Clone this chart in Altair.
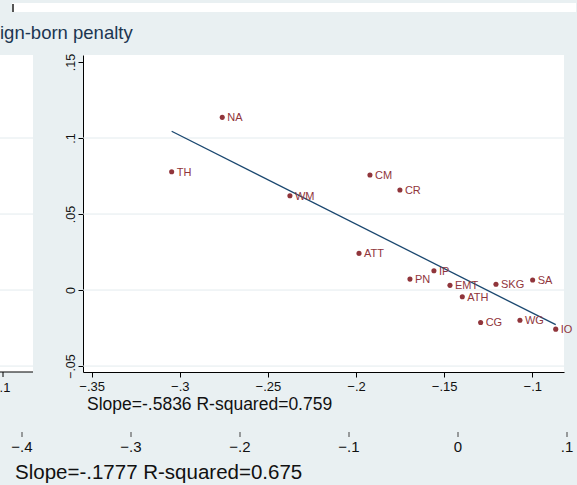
import altair as alt
import pandas as pd

# ---- data ----
labels = ["NA", "TH", "WM", "CM", "CR", "ATT", "IP", "PN", "EMT", "SKG", "SA", "ATH", "CG", "WG", "IO"]
x_vals = [-0.2759, -0.3046, -0.2375, -0.1921, -0.1751, -0.1983, -0.1558, -0.1694, -0.1467,
          -0.1206, -0.0998, -0.1397, -0.1293, -0.1070, -0.0867]
y_vals = [0.1136, 0.0778, 0.0620, 0.0757, 0.0658, 0.0241, 0.0127, 0.0072, 0.0031,
          0.0038, 0.0066, -0.0044, -0.0213, -0.0199, -0.0257]
x_ticks = [-0.35, -0.3, -0.25, -0.2, -0.15, -0.1]
y_ticks = [-0.05, 0, 0.05, 0.1, 0.15]
y_grid = [-0.05, 0, 0.05, 0.1]
bottom_ticks = [-0.4, -0.3, -0.2, -0.1, 0, 0.1]
title_text = "ign-born penalty"
slope_text_main = "Slope=-.5836 R-squared=0.759"
slope_text_bottom = "Slope=-.1777 R-squared=0.675"
left_panel_tick = ".1"

df = pd.DataFrame({"x": x_vals, "y": y_vals, "label": labels})
grid_df = pd.DataFrame({"y": y_grid})
bt_df = pd.DataFrame({"v": bottom_ticks})
one = pd.DataFrame({"a": [0]})

FONT = "Liberation Sans"
BG = "#e9f0f2"
GRID = "#e3ebee"
MAROON = "#90353b"
NAVY = "#1a476f"
W, H = 481, 317

fmt = "replace(format(datum.value, '.2~f'), '0.', '.')"

xscale = alt.Scale(domain=[-0.3549, -0.0820], nice=False, zero=False)
yscale = alt.Scale(domain=[-0.0539, 0.1546], nice=False, zero=False)

xax = alt.Axis(values=x_ticks, labelExpr=fmt, title=None, grid=False, tickSize=5,
               tickColor="black", domainColor="black", labelColor="#111",
               labelFontSize=13, labelPadding=3, labelFont=FONT)
yax = alt.Axis(values=y_ticks, labelExpr=fmt, title=None, grid=False, tickSize=5,
               tickColor="black", domainColor="black", labelColor="#111",
               labelFontSize=12.5, labelAngle=270, labelAlign="center",
               labelBaseline="bottom", labelPadding=1, labelFont=FONT)

X = alt.X("x:Q", scale=xscale, axis=xax)
Y = alt.Y("y:Q", scale=yscale, axis=yax)

# grid lines in right panel and left panel
grid_right = alt.Chart(grid_df).mark_rule(color=GRID, strokeWidth=1).encode(
    y=Y, x=alt.value(0), x2=alt.value(W))
left_rect = alt.Chart(one).mark_rect(color="white").encode(
    x=alt.value(-83), x2=alt.value(-50), y=alt.value(0), y2=alt.value(H))
grid_left = alt.Chart(grid_df).mark_rule(color=GRID, strokeWidth=1).encode(
    y=Y, x=alt.value(-83), x2=alt.value(-50))
left_axis = alt.Chart(one).mark_rule(color="black", strokeWidth=1).encode(
    x=alt.value(-83), x2=alt.value(-50), y=alt.value(H), y2=alt.value(H))
left_tick = alt.Chart(one).mark_rule(color="black", strokeWidth=1).encode(
    x=alt.value(-80), y=alt.value(H), y2=alt.value(H + 5))
left_label = alt.Chart(one).mark_text(text=left_panel_tick, font=FONT, fontSize=13,
                                      color="#111", align="center", baseline="middle").encode(
    x=alt.value(-78), y=alt.value(333))

top_strip = alt.Chart(one).mark_rect(color="white").encode(
    x=alt.value(-71), x2=alt.value(493), y=alt.value(-52), y2=alt.value(-43))
top_tick = alt.Chart(one).mark_rule(color="#555", strokeWidth=2).encode(
    x=alt.value(-70), y=alt.value(-51), y2=alt.value(-43))
title = alt.Chart(one).mark_text(text=title_text, font=FONT, fontSize=18.5, color="#1c3651",
                                 align="left", baseline="alphabetic").encode(
    x=alt.value(-83), y=alt.value(-16))

base = alt.Chart(df)
line = base.transform_regression("x", "y").mark_line(color=NAVY, strokeWidth=1.3).encode(
    x=X, y=Y)
points = base.mark_circle(color=MAROON, size=26, opacity=1).encode(x=X, y=Y)
texts = base.mark_text(color=MAROON, font=FONT, fontSize=11, align="left",
                       baseline="middle", dx=5, dy=1).encode(x=X, y=Y, text="label:N")

slope_main = alt.Chart(one).mark_text(text=slope_text_main, font=FONT, fontSize=17.5,
                                      color="#111", align="left", baseline="alphabetic").encode(
    x=alt.value(4), y=alt.value(355))
slope_bottom = alt.Chart(one).mark_text(text=slope_text_bottom, font=FONT, fontSize=20.5,
                                        color="#111", align="left", baseline="alphabetic").encode(
    x=alt.value(-68), y=alt.value(424))

main = alt.layer(left_rect, grid_left, left_axis, left_tick, left_label, top_strip, top_tick,
                 title, grid_right, line, points, texts, slope_main, slope_bottom)

bscale = alt.Scale(domain=[-0.4, 0.1], range=[-61, 484], nice=False, zero=False)
b_ticks = alt.Chart(bt_df).mark_rule(color="#444", strokeWidth=1).encode(
    x=alt.X("v:Q", scale=bscale, axis=None), y=alt.value(377), y2=alt.value(382))
b_labels = alt.Chart(bt_df).transform_calculate(
    lab="replace(format(datum.v, '.1~f'), '0.', '.')"
).mark_text(font=FONT, fontSize=15, color="#111", align="center", baseline="middle").encode(
    x=alt.X("v:Q", scale=bscale, axis=None), y=alt.value(392), text="lab:N")

chart = alt.layer(main, b_ticks, b_labels).resolve_scale(x="independent").properties(
    width=W, height=H,
    padding={"left": 83, "top": 55, "right": 13, "bottom": 113},
    autosize=alt.AutoSizeParams(type="none"),
    background=BG,
).configure_view(fill="white", stroke=None)

chart.save("out.html", embed_options={"renderer": "svg", "actions": False})
